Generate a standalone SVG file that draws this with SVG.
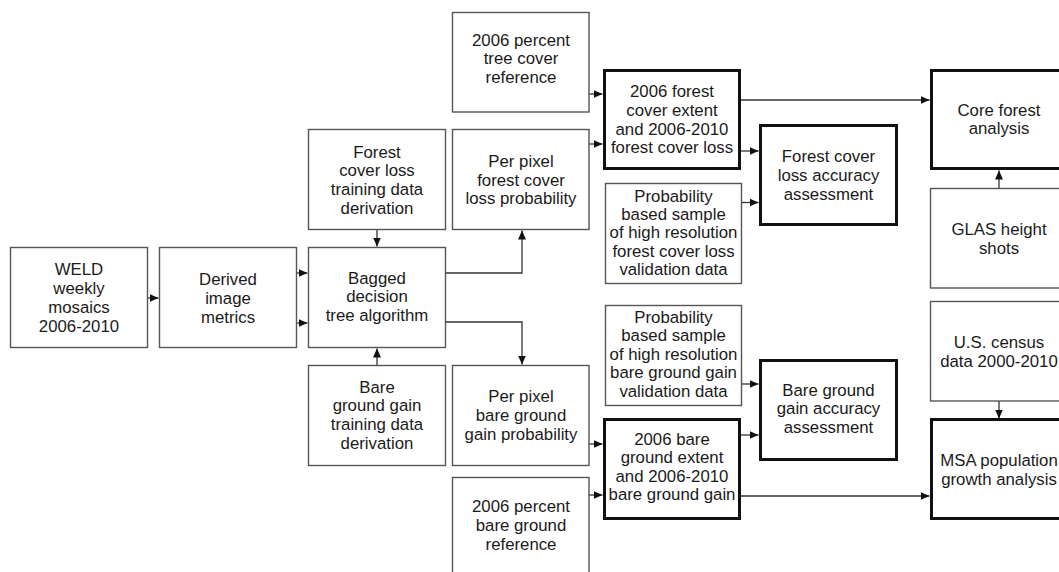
<svg xmlns="http://www.w3.org/2000/svg" width="1059" height="572" viewBox="0 0 1059 572">
<style>
.bx{fill:#fff;stroke:#555;stroke-width:1.4}
.bk{fill:#fff;stroke:#111;stroke-width:3}
.t{font-family:"Liberation Sans",Arial,sans-serif;font-size:16.8px;fill:#1a1a1a;text-anchor:middle}
.c{fill:none;stroke:#333;stroke-width:1.3}
</style>
<defs>
<marker id="ah" markerUnits="userSpaceOnUse" markerWidth="10" markerHeight="9" refX="9" refY="4.5" orient="auto">
<path d="M0,0.5 L9,4.5 L0,8.5 z" fill="#111"/>
</marker>
</defs>
<rect width="1059" height="572" fill="#fff"/>
<g id="connectors">
<path class="c" d="M148,298 H158.5" marker-end="url(#ah)"/>
<path class="c" d="M296,273 H307.5" marker-end="url(#ah)"/>
<path class="c" d="M296,323 H307.5" marker-end="url(#ah)"/>
<path class="c" d="M377,230 V246.5" marker-end="url(#ah)"/>
<path class="c" d="M377,365 V348.5" marker-end="url(#ah)"/>
<path class="c" d="M446,273 H522 V230.5" marker-end="url(#ah)"/>
<path class="c" d="M446,322 H522 V364.5" marker-end="url(#ah)"/>
<path class="c" d="M589,94 H602.5" marker-end="url(#ah)"/>
<path class="c" d="M589,144 H602.5" marker-end="url(#ah)"/>
<path class="c" d="M741,151 H758.5" marker-end="url(#ah)"/>
<path class="c" d="M742,202.5 H758.5" marker-end="url(#ah)"/>
<path class="c" d="M741,100 H929.5" marker-end="url(#ah)"/>
<path class="c" d="M999,188 V170.5" marker-end="url(#ah)"/>
<path class="c" d="M589,444 H602.5" marker-end="url(#ah)"/>
<path class="c" d="M589,495 H602.5" marker-end="url(#ah)"/>
<path class="c" d="M742,384 H758.5" marker-end="url(#ah)"/>
<path class="c" d="M741,435 H758.5" marker-end="url(#ah)"/>
<path class="c" d="M741,496 H929.5" marker-end="url(#ah)"/>
<path class="c" d="M999,401 V418.5" marker-end="url(#ah)"/>
</g>
<g id="weld">
<rect class="bx" x="10.5" y="247.5" width="137" height="100"/>
<text class="t"><tspan x="79" y="275">WELD</tspan><tspan x="79" y="294">weekly</tspan><tspan x="79" y="313">mosaics</tspan><tspan x="79" y="332">2006-2010</tspan></text>
</g>
<g id="derived">
<rect class="bx" x="159.5" y="247.5" width="137" height="100"/>
<text class="t"><tspan x="228" y="285">Derived</tspan><tspan x="228" y="304">image</tspan><tspan x="228" y="323">metrics</tspan></text>
</g>
<g id="forest-training">
<rect class="bx" x="308.5" y="129.5" width="137" height="100"/>
<text class="t"><tspan x="377" y="157.5">Forest</tspan><tspan x="377" y="176.3">cover loss</tspan><tspan x="377" y="195.1">training data</tspan><tspan x="377" y="213.9">derivation</tspan></text>
</g>
<g id="bagged">
<rect class="bx" x="308.5" y="247.5" width="137" height="100"/>
<text class="t"><tspan x="377" y="283.5">Bagged</tspan><tspan x="377" y="302.3">decision</tspan><tspan x="377" y="321.1">tree algorithm</tspan></text>
</g>
<g id="bare-training">
<rect class="bx" x="308.5" y="365.5" width="137" height="100"/>
<text class="t"><tspan x="377" y="392.5">Bare</tspan><tspan x="377" y="411.3">ground gain</tspan><tspan x="377" y="430.1">training data</tspan><tspan x="377" y="448.9">derivation</tspan></text>
</g>
<g id="tree-ref">
<rect class="bx" x="452.5" y="12.5" width="136.5" height="99.5"/>
<text class="t"><tspan x="521" y="45.5">2006 percent</tspan><tspan x="521" y="64.3">tree cover</tspan><tspan x="521" y="83.1">reference</tspan></text>
</g>
<g id="pp-forest">
<rect class="bx" x="452.5" y="129.5" width="136.5" height="100"/>
<text class="t"><tspan x="521" y="166.7">Per pixel</tspan><tspan x="521" y="185.5">forest cover</tspan><tspan x="521" y="204.3">loss probability</tspan></text>
</g>
<g id="pp-bare">
<rect class="bx" x="452.5" y="365.5" width="136.5" height="100"/>
<text class="t"><tspan x="521" y="402">Per pixel</tspan><tspan x="521" y="420.8">bare ground</tspan><tspan x="521" y="439.6">gain probability</tspan></text>
</g>
<g id="bare-ref">
<rect class="bx" x="452.5" y="477.5" width="136.5" height="110"/>
<text class="t"><tspan x="521" y="512">2006 percent</tspan><tspan x="521" y="530.8">bare ground</tspan><tspan x="521" y="549.6">reference</tspan></text>
</g>
<g id="forest-extent">
<rect class="bk" x="604.5" y="70.5" width="135" height="98"/>
<text class="t"><tspan x="672" y="97">2006 forest</tspan><tspan x="672" y="115.8">cover extent</tspan><tspan x="672" y="134.6">and 2006-2010</tspan><tspan x="672" y="153.4">forest cover loss</tspan></text>
</g>
<g id="prob-forest">
<rect class="bx" x="605.5" y="183.5" width="136" height="100"/>
<text class="t"><tspan x="673.5" y="201.7">Probability</tspan><tspan x="673.5" y="220">based sample</tspan><tspan x="673.5" y="238.3">of high resolution</tspan><tspan x="673.5" y="256.6">forest cover loss</tspan><tspan x="673.5" y="275">validation data</tspan></text>
</g>
<g id="forest-accuracy">
<rect class="bk" x="760.5" y="125.5" width="136" height="99"/>
<text class="t"><tspan x="828.5" y="162">Forest cover</tspan><tspan x="828.5" y="180.8">loss accuracy</tspan><tspan x="828.5" y="199.6">assessment</tspan></text>
</g>
<g id="core-forest">
<rect class="bk" x="931.5" y="70.5" width="135" height="98"/>
<text class="t"><tspan x="999" y="115.5">Core forest</tspan><tspan x="999" y="134.3">analysis</tspan></text>
</g>
<g id="glas">
<rect class="bx" x="930.5" y="188.5" width="137" height="99.5"/>
<text class="t"><tspan x="999" y="235">GLAS height</tspan><tspan x="999" y="253.8">shots</tspan></text>
</g>
<g id="prob-bare">
<rect class="bx" x="605.5" y="305.5" width="136" height="100"/>
<text class="t"><tspan x="673.5" y="322.5">Probability</tspan><tspan x="673.5" y="341">based sample</tspan><tspan x="673.5" y="359.5">of high resolution</tspan><tspan x="673.5" y="378">bare ground gain</tspan><tspan x="673.5" y="396.5">validation data</tspan></text>
</g>
<g id="bare-accuracy">
<rect class="bk" x="760.5" y="360.5" width="136" height="99"/>
<text class="t"><tspan x="828.5" y="395.5">Bare ground</tspan><tspan x="828.5" y="414.3">gain accuracy</tspan><tspan x="828.5" y="433.1">assessment</tspan></text>
</g>
<g id="bare-extent">
<rect class="bk" x="604.5" y="419.5" width="135" height="99"/>
<text class="t"><tspan x="672" y="445">2006 bare</tspan><tspan x="672" y="463.3">ground extent</tspan><tspan x="672" y="481.6">and 2006-2010</tspan><tspan x="672" y="499.9">bare ground gain</tspan></text>
</g>
<g id="census">
<rect class="bx" x="930.5" y="301.5" width="137" height="99.5"/>
<text class="t"><tspan x="999" y="348">U.S. census</tspan><tspan x="999" y="366.8">data 2000-2010</tspan></text>
</g>
<g id="msa">
<rect class="bk" x="931.5" y="419.5" width="135" height="99"/>
<text class="t"><tspan x="999" y="466">MSA population</tspan><tspan x="999" y="484.8">growth analysis</tspan></text>
</g>
</svg>
